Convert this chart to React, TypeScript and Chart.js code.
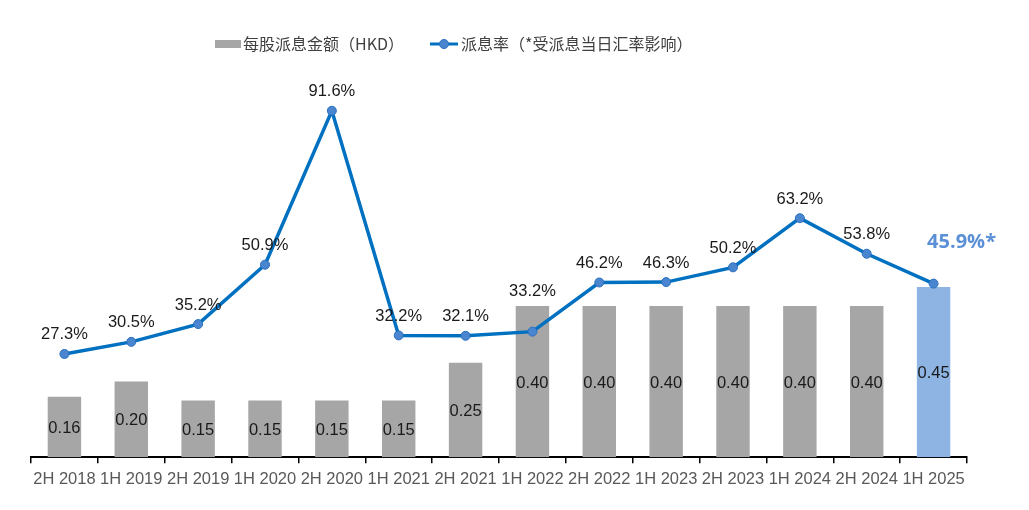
import { useEffect, useRef } from "react";
import { Chart, registerables } from "chart.js";

Chart.register(...registerables);

const periods = [
  "2H 2018", "1H 2019", "2H 2019", "1H 2020", "2H 2020", "1H 2021", "2H 2021",
  "1H 2022", "2H 2022", "1H 2023", "2H 2023", "1H 2024", "2H 2024", "1H 2025",
];
const dividendPerShare = [0.16, 0.2, 0.15, 0.15, 0.15, 0.15, 0.25, 0.4, 0.4, 0.4, 0.4, 0.4, 0.4, 0.45];
const payoutRatio = [27.3, 30.5, 35.2, 50.9, 91.6, 32.2, 32.1, 33.2, 46.2, 46.3, 50.2, 63.2, 53.8, 45.9];

const barLegend = "每股派息金额（HKD）";
const lineLegend = "派息率（*受派息当日汇率影响）";

const GREY = "#a6a6a6";
const LIGHT_BLUE = "#8db4e2";
const LINE_BLUE = "#0070c0";
const SANS = "'Liberation Sans', Arial, sans-serif";

const labelsPlugin = {
  id: "valueLabels",
  afterDatasetsDraw(chart: Chart) {
    const ctx = chart.ctx;
    const last = periods.length - 1;
    ctx.save();
    ctx.textAlign = "center";
    ctx.textBaseline = "middle";

    // bar values, centred inside each bar
    const bars = chart.getDatasetMeta(0).data;
    ctx.font = `16.5px ${SANS}`;
    ctx.fillStyle = "#1a1a1a";
    bars.forEach((el: any, i) => {
      const mid = (el.y + el.base) / 2 + 1.5;
      ctx.fillText(dividendPerShare[i].toFixed(2), el.x, mid);
    });

    // payout ratio labels above the points
    const pts = chart.getDatasetMeta(1).data;
    pts.forEach((el: any, i) => {
      if (i === last) {
        ctx.font = "bold 20px 'Open Sans', 'Liberation Sans', sans-serif";
        ctx.fillStyle = "#5b8fd6";
        ctx.fillText(payoutRatio[i].toFixed(1) + "%*", el.x + 28, el.y - 41);
        return;
      }
      ctx.font = `16.5px ${SANS}`;
      ctx.fillStyle = "#1a1a1a";
      const dy = i === 7 ? 40 : 19;
      ctx.fillText(payoutRatio[i].toFixed(1) + "%", el.x, el.y - dy);
    });
    ctx.restore();
  },
};

const legendPlugin = {
  id: "customLegend",
  afterDraw(chart: Chart) {
    const ctx = chart.ctx;
    ctx.save();
    const y = 44;
    ctx.font = "16px 'Noto Sans CJK SC', sans-serif";
    ctx.textBaseline = "middle";
    ctx.textAlign = "left";
    ctx.fillStyle = GREY;
    ctx.fillRect(215, y - 4, 26, 8);
    ctx.fillStyle = "#404040";
    ctx.fillText(barLegend, 243, y);

    ctx.strokeStyle = LINE_BLUE;
    ctx.lineWidth = 3;
    ctx.beginPath();
    ctx.moveTo(430, y);
    ctx.lineTo(458, y);
    ctx.stroke();
    ctx.beginPath();
    ctx.arc(444, y, 4.5, 0, Math.PI * 2);
    ctx.fillStyle = "#4a86d0";
    ctx.fill();
    ctx.lineWidth = 1;
    ctx.strokeStyle = "#2a6fbf";
    ctx.stroke();
    ctx.fillStyle = "#404040";
    ctx.fillText(lineLegend, 461, y);
    ctx.restore();
  },
};

export default function App() {
  const canvasRef = useRef<HTMLCanvasElement>(null);
  const chartRef = useRef<Chart | null>(null);

  useEffect(() => {
    document.body.style.margin = "0";
    if (!canvasRef.current) return;
    if (chartRef.current) chartRef.current.destroy();

    chartRef.current = new Chart(canvasRef.current, {
      type: "bar",
      data: {
        labels: periods,
        datasets: [
          {
            type: "bar",
            label: barLegend,
            data: dividendPerShare,
            backgroundColor: dividendPerShare.map((_, i) => (i === periods.length - 1 ? LIGHT_BLUE : GREY)),
            barPercentage: 0.5,
            categoryPercentage: 1,
            yAxisID: "y",
            order: 2,
          },
          {
            type: "line",
            label: lineLegend,
            data: payoutRatio,
            borderColor: LINE_BLUE,
            borderWidth: 3.5,
            pointRadius: 4.5,
            pointBackgroundColor: "#4a86d0",
            pointBorderColor: "#2a6fbf",
            pointBorderWidth: 1,
            tension: 0,
            yAxisID: "y1",
            order: 1,
          },
        ],
      },
      options: {
        animation: false,
        responsive: false,
        maintainAspectRatio: false,
        layout: { padding: { left: 31, right: 62, top: 79, bottom: 15 } },
        plugins: {
          legend: { display: false },
          tooltip: { enabled: false },
        },
        scales: {
          x: {
            offset: true,
            grid: {
              offset: true,
              drawOnChartArea: false,
              drawTicks: true,
              tickLength: 6,
              color: "#000",
              lineWidth: 1.5,
            },
            border: { display: true, color: "#000", width: 2 },
            ticks: {
              color: "#595959",
              font: { size: 16.5, family: SANS },
              maxRotation: 0,
              autoSkip: false,
              padding: 6,
            },
          },
          y: { display: false, min: 0, max: 1 },
          y1: { display: false, min: 0, max: 100 },
        },
      },
      plugins: [labelsPlugin, legendPlugin],
    });

    return () => {
      if (chartRef.current) {
        chartRef.current.destroy();
        chartRef.current = null;
      }
    };
  }, []);

  return (
    <div style={{ width: 1029, height: 510, background: "#fff" }}>
      <canvas ref={canvasRef} width={1029} height={510} style={{ width: 1029, height: 510 }} />
    </div>
  );
}
